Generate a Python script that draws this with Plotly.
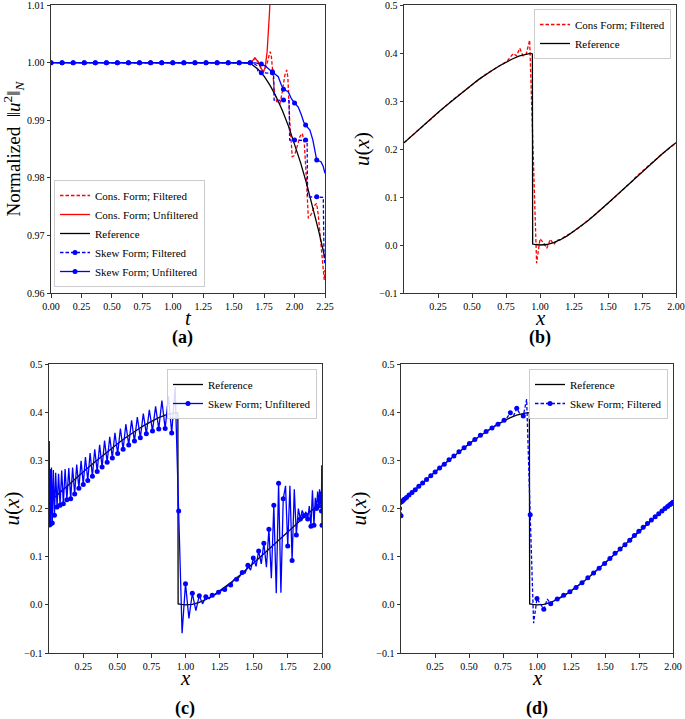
import plotly.graph_objects as go

# ---------------- Panel (a): normalized energy vs time ----------------
ref_t = [0, 1.5, 1.6, 1.65, 1.7, 1.75, 1.8, 1.85, 1.9, 1.95, 2.0, 2.05, 2.1, 2.15, 2.2, 2.25]
ref_e = [1.0, 1.0, 1.0, 0.99968, 0.99887, 0.99764, 0.99602, 0.99403, 0.99168, 0.98898,
         0.98595, 0.98259, 0.97891, 0.97491, 0.97061, 0.966]

cons_filt_t = [0, 1.62, 1.65, 1.675, 1.70, 1.72, 1.744, 1.77, 1.79, 1.80, 1.81, 1.835, 1.853, 1.88,
               1.90, 1.92, 1.935, 1.945, 1.96, 1.981, 2.0, 2.02, 2.045, 2.064, 2.08, 2.097, 2.113,
               2.14, 2.165, 2.181, 2.195, 2.21, 2.222, 2.235, 2.244, 2.25]
cons_filt_e = [1.0, 1.0, 1.0002, 1.0008, 1.0002, 0.9992, 0.9984, 0.9995, 1.0012, 1.0019, 1.0010,
               0.9950, 0.99323, 0.9929, 0.9950, 0.9978, 0.99873, 0.9975, 0.9900, 0.98366, 0.9839,
               0.9855, 0.9872, 0.98772, 0.9860, 0.9800, 0.97297, 0.9738, 0.9752, 0.97557, 0.9735,
               0.9700, 0.96747, 0.9650, 0.96226, 0.9640]

cons_unf_t = [0, 1.62, 1.65, 1.675, 1.70, 1.72, 1.744, 1.76, 1.775, 1.785, 1.795, 1.805]
cons_unf_e = [1.0, 1.0, 1.0002, 1.0008, 1.0002, 0.9992, 0.9984, 0.9993, 1.002, 1.005, 1.009, 1.015]

skew_filt_t = [0, 1.60, 1.66, 1.69, 1.70, 1.727, 1.80, 1.828, 1.832, 1.909, 1.955, 1.96, 2.0, 2.09,
               2.103, 2.107, 2.18, 2.236, 2.242, 2.25]
skew_filt_e = [1.0, 1.0, 0.99995, 0.9995, 0.9984, 0.99825, 0.99825, 0.99815, 0.9935, 0.9935, 0.9934,
               0.98655, 0.98655, 0.98655, 0.9865, 0.9767, 0.9767, 0.9766, 0.9660, 0.9650]

skew_unf_t = [0, 1.55, 1.636, 1.68, 1.727, 1.76, 1.80, 1.825, 1.866, 1.89, 1.909, 1.948, 1.975, 2.0,
              2.03, 2.055, 2.075, 2.09, 2.126, 2.15, 2.17, 2.182, 2.217, 2.235, 2.25]
skew_unf_e = [1.0, 1.0, 1.0, 0.99995, 0.99975, 0.9994, 0.9987, 0.9983, 0.99755, 0.9962, 0.99536,
              0.99495, 0.9937, 0.9930, 0.9923, 0.9910, 0.9897, 0.98917, 0.9883, 0.9866, 0.9840,
              0.98309, 0.9828, 0.9820, 0.9808]

mark_t = [0.0, 0.091, 0.182, 0.273, 0.364, 0.455, 0.545, 0.636, 0.727, 0.818, 0.909, 1.0, 1.091,
          1.182, 1.273, 1.364, 1.455, 1.545, 1.636, 1.727, 1.818, 1.909, 2.0, 2.091, 2.182]
skew_filt_mark = [1.0] * 19 + [0.99825, 0.99825, 0.9935, 0.98655, 0.98655, 0.9767]
skew_unf_mark = [1.0] * 19 + [0.99975, 0.9984, 0.99536, 0.9930, 0.98917, 0.98309]

# ---------------- Panels (b)-(d): u(x) ----------------
ref_x = [0.00, 0.05, 0.10, 0.15, 0.20, 0.25, 0.30, 0.35, 0.40, 0.45, 0.50, 0.55, 0.60, 0.65, 0.70,
         0.75, 0.80, 0.85, 0.90, 0.93, 0.944, 0.946, 0.97, 1.00, 1.05, 1.10, 1.15, 1.20, 1.25, 1.30,
         1.35, 1.40, 1.45, 1.50, 1.55, 1.60, 1.65, 1.70, 1.75, 1.80, 1.85, 1.90, 1.95, 2.00]
ref_u = [0.213, 0.226, 0.238, 0.251, 0.263, 0.276, 0.288, 0.300, 0.312, 0.323, 0.334, 0.345, 0.355,
         0.364, 0.373, 0.381, 0.388, 0.394, 0.398, 0.399, 0.398, 0.002, 0.001, 0.000, 0.001, 0.005,
         0.011, 0.019, 0.029, 0.039, 0.050, 0.062, 0.074, 0.087, 0.100, 0.113, 0.126, 0.140, 0.153,
         0.166, 0.178, 0.190, 0.202, 0.213]

nodes_x = [0.000, 0.002, 0.004, 0.008, 0.012, 0.018, 0.024, 0.032, 0.040, 0.049,
           0.059, 0.070, 0.081, 0.093, 0.105, 0.118, 0.131, 0.145, 0.159, 0.173,
           0.188, 0.203, 0.219, 0.235, 0.251, 0.267, 0.284, 0.301, 0.318, 0.335,
           0.353, 0.371, 0.389, 0.407, 0.426, 0.445, 0.464, 0.483, 0.503, 0.523,
           0.543, 0.563, 0.584, 0.605, 0.626, 0.647, 0.669, 0.691, 0.713, 0.735,
           0.758, 0.781, 0.804, 0.827, 0.851, 0.875, 0.899, 0.924, 0.950, 0.975,
           1.000, 1.025, 1.050, 1.076, 1.101, 1.125, 1.149, 1.173, 1.196, 1.219,
           1.242, 1.265, 1.287, 1.309, 1.331, 1.353, 1.374, 1.395, 1.416, 1.437,
           1.457, 1.477, 1.497, 1.517, 1.536, 1.555, 1.574, 1.593, 1.611, 1.629,
           1.647, 1.665, 1.682, 1.699, 1.716, 1.733, 1.749, 1.765, 1.781, 1.797,
           1.812, 1.827, 1.841, 1.855, 1.869, 1.882, 1.895, 1.907, 1.919, 1.930,
           1.941, 1.951, 1.960, 1.968, 1.976, 1.982, 1.988, 1.992, 1.996, 1.998,
           2.000]

cons_filt_u = [0.213, 0.213, 0.214, 0.215, 0.216, 0.218, 0.219, 0.221, 0.223, 0.226,
               0.228, 0.231, 0.233, 0.236, 0.239, 0.243, 0.246, 0.250, 0.253, 0.257,
               0.260, 0.264, 0.268, 0.272, 0.276, 0.280, 0.284, 0.288, 0.292, 0.296,
               0.301, 0.305, 0.309, 0.314, 0.318, 0.322, 0.326, 0.330, 0.335, 0.339,
               0.343, 0.348, 0.352, 0.356, 0.360, 0.363, 0.367, 0.371, 0.375, 0.379,
               0.383, 0.392, 0.399, 0.394, 0.410, 0.394, 0.398, 0.427, 0.190, -0.038,
               0.013, 0.005, -0.007, 0.012, 0.001, 0.010, 0.011, 0.016, 0.020, 0.023,
               0.027, 0.032, 0.036, 0.041, 0.046, 0.051, 0.056, 0.061, 0.066, 0.071,
               0.076, 0.081, 0.086, 0.091, 0.096, 0.101, 0.107, 0.111, 0.116, 0.121,
               0.125, 0.130, 0.134, 0.140, 0.144, 0.149, 0.153, 0.157, 0.161, 0.165,
               0.169, 0.172, 0.176, 0.179, 0.183, 0.186, 0.189, 0.192, 0.195, 0.197,
               0.200, 0.202, 0.204, 0.206, 0.208, 0.209, 0.210, 0.211, 0.212, 0.213,
               0.213]

skew_unf_u = [0.180, 0.340, 0.166, 0.282, 0.168, 0.285, 0.170, 0.280, 0.186, 0.274,
              0.203, 0.272, 0.207, 0.279, 0.210, 0.282, 0.218, 0.284, 0.220, 0.285,
              0.230, 0.291, 0.242, 0.299, 0.250, 0.307, 0.258, 0.315, 0.267, 0.323,
              0.277, 0.332, 0.286, 0.341, 0.296, 0.349, 0.305, 0.357, 0.314, 0.366,
              0.323, 0.375, 0.332, 0.383, 0.340, 0.390, 0.347, 0.397, 0.355, 0.405,
              0.361, 0.412, 0.365, 0.424, 0.366, 0.433, 0.357, 0.452, 0.195, -0.059,
              0.044, -0.028, 0.024, -0.012, 0.019, 0.002, 0.017, 0.013, 0.020, 0.021,
              0.026, 0.030, 0.032, 0.040, 0.041, 0.052, 0.053, 0.058, 0.067, 0.066,
              0.082, 0.072, 0.097, 0.080, 0.112, 0.085, 0.128, 0.078, 0.157, 0.055,
              0.207, 0.024, 0.2525, 0.025, 0.220, 0.247, 0.122, 0.247, 0.092, 0.240,
              0.145, 0.200, 0.178, 0.196, 0.185, 0.193, 0.178, 0.205, 0.163, 0.238,
              0.165, 0.222, 0.200, 0.235, 0.205, 0.240, 0.215, 0.235, 0.195, 0.290,
              0.165]

skew_filt_u = [0.185, 0.213, 0.214, 0.215, 0.216, 0.218, 0.219, 0.221, 0.223, 0.226,
               0.228, 0.231, 0.233, 0.236, 0.239, 0.243, 0.246, 0.250, 0.253, 0.257,
               0.260, 0.264, 0.268, 0.272, 0.276, 0.280, 0.284, 0.288, 0.292, 0.296,
               0.301, 0.305, 0.309, 0.314, 0.318, 0.322, 0.326, 0.330, 0.335, 0.339,
               0.343, 0.348, 0.352, 0.356, 0.360, 0.363, 0.367, 0.371, 0.375, 0.379,
               0.383, 0.389, 0.399, 0.392, 0.408, 0.396, 0.392, 0.427, 0.187, -0.038,
               0.013, 0.001, -0.009, 0.012, 0.002, 0.009, 0.012, 0.016, 0.020, 0.023,
               0.027, 0.032, 0.036, 0.041, 0.046, 0.051, 0.056, 0.061, 0.066, 0.071,
               0.076, 0.081, 0.086, 0.091, 0.096, 0.101, 0.107, 0.111, 0.116, 0.121,
               0.125, 0.130, 0.134, 0.140, 0.144, 0.149, 0.153, 0.157, 0.161, 0.165,
               0.169, 0.172, 0.176, 0.179, 0.183, 0.186, 0.189, 0.192, 0.195, 0.197,
               0.200, 0.202, 0.204, 0.206, 0.208, 0.209, 0.210, 0.211, 0.212, 0.213,
               0.213]

t_ticks = [0.0, 0.25, 0.5, 0.75, 1.0, 1.25, 1.5, 1.75, 2.0, 2.25]
e_ticks = [0.96, 0.97, 0.98, 0.99, 1.00, 1.01]
x_ticks = [0.25, 0.5, 0.75, 1.0, 1.25, 1.5, 1.75, 2.0]
u_ticks = [-0.1, 0.0, 0.1, 0.2, 0.3, 0.4, 0.5]

# ---------------- Figure ----------------
FONT = "Liberation Serif"
RED, BLUE, BLACK = "#ff0000", "#0000ff", "#000000"
LW = 1.3
DASH = "3.5px,2px"
MS = 5

fig = go.Figure()


def line(x, y, color, name=None, dash=None, ax=("x", "y"), legend="legend", show=True):
    fig.add_trace(go.Scatter(x=x, y=y, mode="lines", name=name,
                             line=dict(color=color, width=LW, dash=dash),
                             xaxis=ax[0], yaxis=ax[1], legend=legend,
                             showlegend=show and name is not None))


def marks(x, y, color, ax):
    fig.add_trace(go.Scatter(x=x, y=y, mode="markers", marker=dict(color=color, size=MS),
                             xaxis=ax[0], yaxis=ax[1], showlegend=False))


def key(name, color, dash, ax, legend):
    fig.add_trace(go.Scatter(x=[None], y=[None], mode="lines+markers", name=name,
                             line=dict(color=color, width=LW, dash=dash),
                             marker=dict(color=color, size=MS),
                             xaxis=ax[0], yaxis=ax[1], legend=legend))


# (a)
A = ("x", "y")
line(cons_filt_t, cons_filt_e, RED, "Cons. Form; Filtered", DASH, A, "legend")
line(cons_unf_t, cons_unf_e, RED, "Cons. Form; Unfiltered", None, A, "legend")
line(ref_t, ref_e, BLACK, "Reference", None, A, "legend")
line(skew_filt_t, skew_filt_e, BLUE, None, DASH, A)
marks(mark_t, skew_filt_mark, BLUE, A)
key("Skew Form; Filtered", BLUE, DASH, A, "legend")
line(skew_unf_t, skew_unf_e, BLUE, None, None, A)
marks(mark_t, skew_unf_mark, BLUE, A)
key("Skew Form; Unfiltered", BLUE, None, A, "legend")

# (b)
B = ("x2", "y2")
line(nodes_x, cons_filt_u, RED, "Cons Form; Filtered", DASH, B, "legend2")
line(ref_x, ref_u, BLACK, "Reference", None, B, "legend2")

# (c)
C = ("x3", "y3")
line(ref_x, ref_u, BLACK, "Reference", None, C, "legend3")
line(nodes_x, skew_unf_u, BLUE, None, None, C)
marks(nodes_x[::2], skew_unf_u[::2], BLUE, C)
key("Skew Form; Unfiltered", BLUE, None, C, "legend3")

# (d)
D = ("x4", "y4")
line(ref_x, ref_u, BLACK, "Reference", None, D, "legend4")
line(nodes_x, skew_filt_u, BLUE, None, DASH, D)
marks(nodes_x[::2], skew_filt_u[::2], BLUE, D)
key("Skew Form; Filtered", BLUE, DASH, D, "legend4")

W, H = 685, 719


def px_x(p):
    return p / W


def px_y(p):
    return (H - p) / H


common = dict(showline=True, mirror=True, linecolor="#333333", linewidth=1,
              ticks="outside", ticklen=3.5, tickwidth=0.8, tickcolor="#333333",
              showgrid=False, zeroline=False, automargin=False, ticklabeloverflow="allow",
              tickfont=dict(family=FONT, size=10, color="#000000"))


def xax(dom, anchor, rng, ticks, fmt):
    return dict(domain=dom, anchor=anchor, range=rng, tickvals=ticks, tickformat=fmt, **common)


def yax(dom, anchor, rng, ticks, fmt, title, size=21):
    return dict(domain=dom, anchor=anchor, range=rng, tickvals=ticks, tickformat=fmt,
                title=dict(text=title, font=dict(family=FONT, size=size, color="#000"), standoff=4),
                **common)


top_dom = [px_y(293), px_y(5)]
bot_dom = [px_y(653), px_y(364)]


def leg(x, y, xa, ya):
    return dict(x=x, y=y, xanchor=xa, yanchor=ya, bgcolor="rgba(255,255,255,0.85)",
                bordercolor="#cccccc", borderwidth=1, tracegroupgap=0, itemwidth=30,
                font=dict(family=FONT, size=11, color="#000"))


U_TITLE = "<i>u</i>(<i>x</i>)"
fig.update_layout(
    width=W, height=H, margin=dict(l=0, r=0, t=0, b=0, autoexpand=False),
    paper_bgcolor="white", plot_bgcolor="white",
    xaxis=xax([px_x(51), px_x(325)], "y", [0, 2.25], t_ticks, ".2f"),
    yaxis=yax(top_dom, "x", [0.96, 1.01001], e_ticks, ".2f",
              "Normalized  ‖<i>u</i><sup>2</sup>‖<sub><i>N</i></sub>", size=19),
    xaxis2=xax([px_x(404), px_x(676)], "y2", [0, 2.0], x_ticks, ".2f"),
    yaxis2=yax(top_dom, "x2", [-0.1, 0.5], u_ticks, ".1f", U_TITLE),
    xaxis3=xax([px_x(49), px_x(322)], "y3", [0, 2.0], x_ticks, ".2f"),
    yaxis3=yax(bot_dom, "x3", [-0.1, 0.5], u_ticks, ".1f", U_TITLE),
    xaxis4=xax([px_x(401), px_x(673)], "y4", [0, 2.0], x_ticks, ".2f"),
    yaxis4=yax(bot_dom, "x4", [-0.1, 0.5], u_ticks, ".1f", U_TITLE),
    legend=leg(px_x(54), px_y(287), "left", "bottom"),
    legend2=leg(px_x(671), px_y(9), "right", "top"),
    legend3=leg(px_x(317), px_y(369), "right", "top"),
    legend4=leg(px_x(668), px_y(369), "right", "top"),
    showlegend=True,
)


def label(text, cx, cy, size):
    fig.add_annotation(text=text, x=px_x(cx), y=px_y(cy), xref="paper", yref="paper",
                       xanchor="center", yanchor="middle", showarrow=False,
                       font=dict(family=FONT, size=size, color="#000"))


# x-axis titles (placed as text under each panel)
for text, cx, cy in [("t", 188, 318), ("x", 540, 318), ("x", 185, 678), ("x", 537, 678)]:
    label("<i>" + text + "</i>", cx, cy, 21)

for text, cx, cy in [("(a)", 183, 337), ("(b)", 540, 337), ("(c)", 185, 708), ("(d)", 537, 708)]:
    label("<b>" + text + "</b>", cx, cy, 18)

fig.write_html("out.html", config={"displayModeBar": False},
               post_script="document.body.style.margin='0px';document.body.style.padding='0px';")
